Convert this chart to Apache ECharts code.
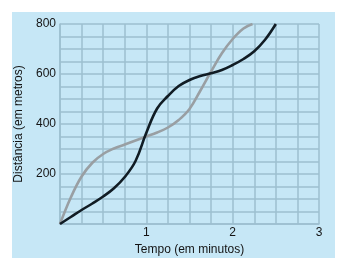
<!DOCTYPE html>
<html>
<head>
<meta charset="utf-8">
<script src="https://cdn.jsdelivr.net/npm/echarts@6/dist/echarts.min.js"></script>
<style>
html,body{margin:0;padding:0;background:#fff;}
#c{width:339px;height:271px;}
</style>
</head>
<body>
<div id="c"></div>
<script>
// Time (minutes) and distance (metres)
const grayTime = [0, 0.125, 0.25, 0.375, 0.5, 0.625, 0.75, 0.875, 1, 1.125, 1.25, 1.375, 1.5, 1.625, 1.75, 1.875, 2, 2.125, 2.23];
const grayDist = [0, 106, 190, 245, 280, 302, 318, 334, 350, 366, 386, 416, 460, 533, 610, 683, 740, 782, 800];
const blackTime = [0, 0.125, 0.25, 0.375, 0.5, 0.625, 0.75, 0.875, 1, 1.125, 1.25, 1.375, 1.5, 1.625, 1.75, 1.875, 2, 2.125, 2.25, 2.375, 2.5];
const blackDist = [0, 28, 56, 82, 110, 143, 188, 252, 365, 462, 512, 552, 576, 592, 603, 616, 636, 660, 691, 737, 800];
const xTickLabels = [1, 2, 3];
const yTickLabels = [200, 400, 600, 800];

const pairs = (t, d) => t.map((v, i) => [v, d[i]]);
const gridColor = '#9dbfcf';
const txt = '#141414';
const font = 'Liberation Sans, Arial, sans-serif';

const chart = echarts.init(document.getElementById('c'), null, {renderer: 'canvas'});
chart.setOption({
  backgroundColor: '#ffffff',
  animation: false,
  graphic: [{
    type: 'rect', z: -10, silent: true,
    shape: {x: 12, y: 12, width: 323, height: 246},
    style: {fill: '#c6e7f6'}
  }],
  grid: {left: 60, right: 20, top: 24, bottom: 47, containLabel: false},
  xAxis: {
    type: 'value', min: 0, max: 3, interval: 0.25,
    name: 'Tempo (em minutos)', nameLocation: 'middle', nameGap: 17,
    nameTextStyle: {color: txt, fontSize: 12, fontFamily: font},
    axisLine: {show: true, lineStyle: {color: gridColor, width: 1.5}},
    axisTick: {show: false},
    splitLine: {show: true, lineStyle: {color: gridColor, width: 1.5}},
    axisLabel: {
      color: txt, fontSize: 12, fontFamily: font, margin: 3,
      formatter: v => xTickLabels.includes(v) ? String(v) : ''
    }
  },
  yAxis: {
    type: 'value', min: 0, max: 800, interval: 50,
    name: 'Distância (em metros)', nameLocation: 'middle', nameGap: 28,
    nameTextStyle: {color: txt, fontSize: 12, fontFamily: font},
    axisLine: {show: true, lineStyle: {color: gridColor, width: 1.5}},
    axisTick: {show: false},
    splitLine: {show: true, lineStyle: {color: gridColor, width: 1.5}},
    axisLabel: {
      color: txt, fontSize: 12, fontFamily: font, margin: 4,
      formatter: v => yTickLabels.includes(v) ? String(v) : ''
    }
  },
  series: [
    {
      type: 'line', data: pairs(grayTime, grayDist), smooth: 0.4,
      symbol: 'none', lineStyle: {color: '#999fa3', width: 2.6}, z: 3
    },
    {
      type: 'line', data: pairs(blackTime, blackDist), smooth: 0.4,
      symbol: 'none', lineStyle: {color: '#111c24', width: 2.6}, z: 4
    }
  ]
});
</script>
</body>
</html>
